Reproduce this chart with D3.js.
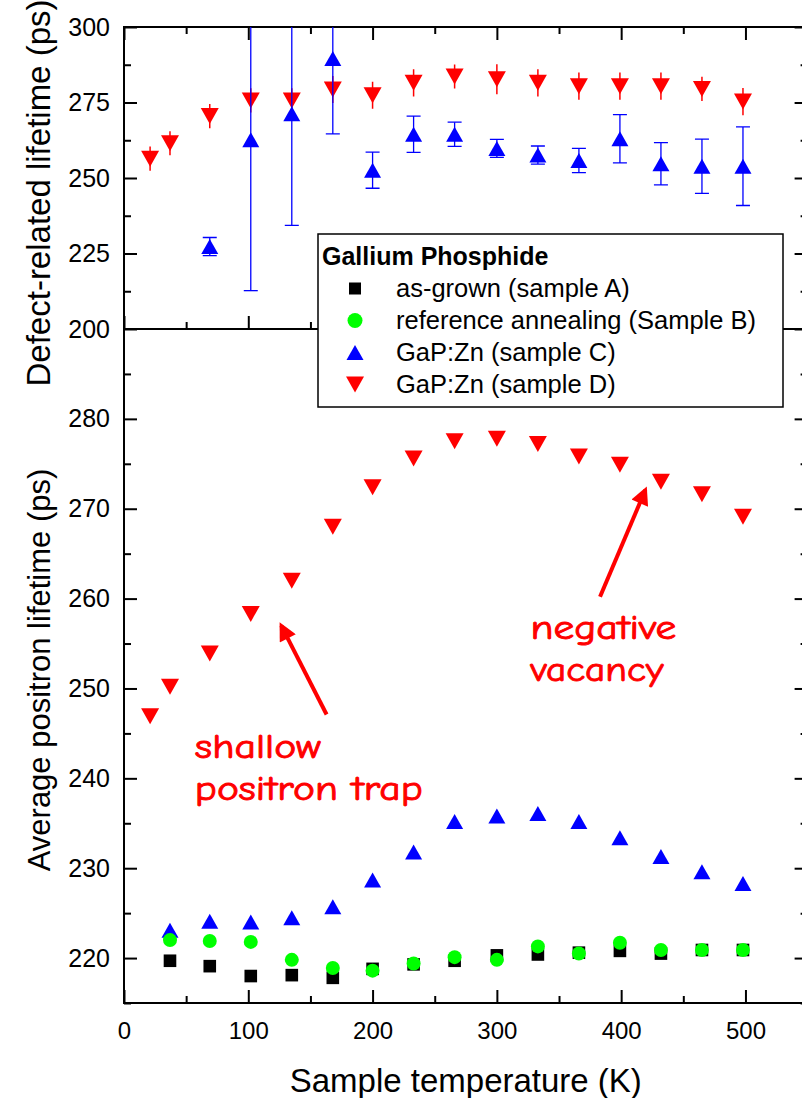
<!DOCTYPE html>
<html>
<head>
<meta charset="utf-8">
<script src="https://cdn.jsdelivr.net/npm/d3@7"></script>
<style>
  body { margin: 0; background: #fff; }
  svg text { font-family: "Liberation Sans", Arial, sans-serif; }
</style>
</head>
<body>
<svg id="chart" width="802" height="1098"></svg>
<script>
// temperatures (K)
const temps = [37, 69, 102, 135, 168, 200, 233, 266, 300, 333, 366, 399, 432, 465, 498];
const tempsD = [21, 37, 69, 102, 135, 168, 200, 233, 266, 300, 333, 366, 399, 432, 465, 498];
const tempsDefC = [69, 102, 135, 168, 200, 233, 266, 300, 333, 366, 399, 432, 465, 498];

// average positron lifetime (ps), lower panel
const avgA = [219.7, 219.1, 218.0, 218.1, 217.8, 218.8, 219.3, 219.7, 220.3, 220.4, 220.6, 220.8, 220.5, 220.9, 220.9];
const avgB = [222.0, 221.9, 221.8, 219.8, 218.9, 218.6, 219.4, 220.1, 219.8, 221.3, 220.5, 221.7, 220.9, 220.9, 220.9];
const avgC = [223.1, 224.1, 224.0, 224.5, 225.7, 228.7, 231.8, 235.2, 235.8, 236.1, 235.2, 233.4, 231.3, 229.6, 228.3];
const avgD = [246.9, 250.2, 253.9, 258.3, 262.0, 268.0, 272.4, 275.6, 277.5, 277.8, 277.2, 275.8, 274.9, 273.0, 271.6, 269.1];

// defect-related lifetime (ps), upper panel
const defC = [227.3, 262.7, 271.3, 289.6, 252.6, 264.5, 264.5, 259.8, 257.6, 255.8, 263.0, 254.7, 253.9, 253.9];
const errC = [3, 50, 37, 25, 6, 6, 4, 3, 3, 4, 8, 7, 9, 13];
const defD = [256.4, 261.5, 270.5, 275.7, 275.7, 279.3, 277.4, 281.5, 283.6, 282.7, 281.5, 280.4, 280.4, 280.4, 279.5, 275.3];
const errD = [4, 4, 4, 4, 4, 4.5, 4.5, 4.5, 4, 5, 4.5, 4.5, 4.5, 4.5, 4, 4.5];

// axis ticks
const xTicks = [0, 100, 200, 300, 400, 500];
const xMinor = [50, 150, 250, 350, 450, 550];
const yTopTicks = [200, 225, 250, 275, 300];
const yTopMinor = [212.5, 237.5, 262.5, 287.5];
const yBotTicks = [220, 230, 240, 250, 260, 270, 280];
const yBotMinor = [215, 225, 235, 245, 255, 265, 275, 285];

const legendTitle = "Gallium Phosphide";
const legendLabels = ["as-grown (sample A)", "reference annealing (Sample B)", "GaP:Zn (sample C)", "GaP:Zn (sample D)"];

// annotations in data units [T, ps]
const noteVacancy = ["negative", "vacancy"];
const noteShallow = ["shallow", "positron trap"];
const arrowShallow = [[163, 247.1], [126.5, 257.0]];
const arrowVacancy = [[383, 260.2], [419.5, 272.1]];

const svg = d3.select("#chart");

const pLeft = 124, pRight = 807.6, pTop = 27, pMid = 329, pBottom = 1003;

var x = d3.scaleLinear().domain([0, 550]).range([pLeft, pRight]);
var yTop = d3.scaleLinear().domain([200, 300]).range([pMid, pTop]);
var yBot = d3.scaleLinear().domain([215, 290]).range([pBottom, pMid]);

const upTri = "M0,-7.5L8.5,7.5L-8.5,7.5Z";
const downTri = "M0,8L9,-8L-9,-8Z";

var defs = svg.append("defs");
defs.append("clipPath").attr("id", "clipTop")
  .append("rect").attr("x", pLeft).attr("y", pTop).attr("width", pRight - pLeft).attr("height", pMid - pTop);

function styleAxis(g) {
  g.select(".domain").remove();
  g.selectAll("line").attr("stroke", "#000").attr("stroke-width", 2);
  g.selectAll("text").attr("fill", "#000");
}

// left axes
svg.append("g").attr("transform", "translate(" + pLeft + ",0)")
  .call(d3.axisLeft(yTop).tickValues(yTopTicks).tickSize(-13).tickPadding(14))
  .call(styleAxis).selectAll("text").style("font-size", "25px");
svg.append("g").attr("transform", "translate(" + pLeft + ",0)")
  .call(d3.axisLeft(yTop).tickValues(yTopMinor).tickSize(-7).tickFormat(""))
  .call(styleAxis);
svg.append("g").attr("transform", "translate(" + pLeft + ",0)")
  .call(d3.axisLeft(yBot).tickValues(yBotTicks).tickSize(-13).tickPadding(14))
  .call(styleAxis).selectAll("text").style("font-size", "25px");
svg.append("g").attr("transform", "translate(" + pLeft + ",0)")
  .call(d3.axisLeft(yBot).tickValues(yBotMinor).tickSize(-7).tickFormat(""))
  .call(styleAxis);

// right axes
svg.append("g").attr("transform", "translate(" + pRight + ",0)")
  .call(d3.axisRight(yTop).tickValues(yTopTicks).tickSize(-13).tickFormat(""))
  .call(styleAxis);
svg.append("g").attr("transform", "translate(" + pRight + ",0)")
  .call(d3.axisRight(yTop).tickValues(yTopMinor).tickSize(-7).tickFormat(""))
  .call(styleAxis);
svg.append("g").attr("transform", "translate(" + pRight + ",0)")
  .call(d3.axisRight(yBot).tickValues(yBotTicks).tickSize(-13).tickFormat(""))
  .call(styleAxis);
svg.append("g").attr("transform", "translate(" + pRight + ",0)")
  .call(d3.axisRight(yBot).tickValues(yBotMinor).tickSize(-7).tickFormat(""))
  .call(styleAxis);

// bottom axis
svg.append("g").attr("transform", "translate(0," + pBottom + ")")
  .call(d3.axisBottom(x).tickValues(xTicks).tickSize(-13).tickPadding(19))
  .call(styleAxis).selectAll("text").style("font-size", "24px");
// top and middle axes, ticks only
[[pTop, d3.axisTop], [pMid, d3.axisBottom], [pBottom, d3.axisBottom]].forEach(function(a) {
  var y0 = a[0], mk = a[1];
  if (y0 != pBottom) {
    svg.append("g").attr("transform", "translate(0," + y0 + ")")
      .call(mk(x).tickValues(xTicks).tickSize(-13).tickFormat(""))
      .call(styleAxis);
  }
  svg.append("g").attr("transform", "translate(0," + y0 + ")")
    .call(mk(x).tickValues(xMinor).tickSize(-7).tickFormat(""))
    .call(styleAxis);
});

// frame
svg.append("rect").attr("x", pLeft).attr("y", pTop).attr("width", pRight - pLeft).attr("height", pBottom - pTop)
  .attr("fill", "none").attr("stroke", "#000").attr("stroke-width", 2);
svg.append("line").attr("x1", pLeft).attr("x2", pRight).attr("y1", pMid).attr("y2", pMid)
  .attr("stroke", "#000").attr("stroke-width", 2);

// upper panel: defect-related lifetime
var topG = svg.append("g").attr("clip-path", "url(#clipTop)");
var redData = tempsD.map(function(t, i) { return {t: t, v: defD[i], e: errD[i]}; });
var blueData = tempsDefC.map(function(t, i) { return {t: t, v: defC[i], e: errC[i]}; });

topG.selectAll(".errD").data(redData).enter().append("line")
  .attr("x1", function(d) { return x(d.t); }).attr("x2", function(d) { return x(d.t); })
  .attr("y1", function(d) { return yTop(d.v - d.e); }).attr("y2", function(d) { return yTop(d.v + d.e); })
  .attr("stroke", "#ff0000").attr("stroke-width", 1.5);
topG.selectAll(".symD").data(redData).enter().append("path")
  .attr("d", downTri).attr("fill", "#ff0000")
  .attr("transform", function(d) { return "translate(" + x(d.t) + "," + yTop(d.v) + ")"; });

var errG = topG.selectAll(".errC").data(blueData).enter().append("g").attr("stroke", "#0000ff").attr("stroke-width", 1.3);
errG.append("line")
  .attr("x1", function(d) { return x(d.t); }).attr("x2", function(d) { return x(d.t); })
  .attr("y1", function(d) { return yTop(d.v - d.e); }).attr("y2", function(d) { return yTop(d.v + d.e); });
errG.append("line")
  .attr("x1", function(d) { return x(d.t) - 7; }).attr("x2", function(d) { return x(d.t) + 7; })
  .attr("y1", function(d) { return yTop(d.v - d.e); }).attr("y2", function(d) { return yTop(d.v - d.e); });
errG.append("line")
  .attr("x1", function(d) { return x(d.t) - 7; }).attr("x2", function(d) { return x(d.t) + 7; })
  .attr("y1", function(d) { return yTop(d.v + d.e); }).attr("y2", function(d) { return yTop(d.v + d.e); });
topG.selectAll(".symC").data(blueData).enter().append("path")
  .attr("d", upTri).attr("fill", "#0000ff")
  .attr("transform", function(d) { return "translate(" + x(d.t) + "," + yTop(d.v) + ")"; });

// lower panel: average positron lifetime
var botG = svg.append("g");
botG.selectAll(".avgD").data(tempsD).enter().append("path")
  .attr("d", downTri).attr("fill", "#ff0000")
  .attr("transform", function(d, i) { return "translate(" + x(d) + "," + yBot(avgD[i]) + ")"; });
botG.selectAll(".avgC").data(temps).enter().append("path")
  .attr("d", upTri).attr("fill", "#0000ff")
  .attr("transform", function(d, i) { return "translate(" + x(d) + "," + yBot(avgC[i]) + ")"; });
botG.selectAll(".avgA").data(temps).enter().append("rect")
  .attr("x", function(d) { return x(d) - 6.3; }).attr("y", function(d, i) { return yBot(avgA[i]) - 6.3; })
  .attr("width", 12.6).attr("height", 12.6).attr("fill", "#000");
botG.selectAll(".avgB").data(temps).enter().append("circle")
  .attr("cx", function(d) { return x(d); }).attr("cy", function(d, i) { return yBot(avgB[i]); })
  .attr("r", 7).attr("fill", "#00ff00");

// annotations
defs.append("marker").attr("id", "head")
  .attr("viewBox", "0 0 10 10").attr("refX", 8).attr("refY", 5)
  .attr("markerWidth", 5).attr("markerHeight", 4.5).attr("orient", "auto")
  .append("path").attr("d", "M0,0L10,5L0,10Z").attr("fill", "#ff0000");
[arrowShallow, arrowVacancy].forEach(function(a) {
  svg.append("line")
    .attr("x1", x(a[0][0])).attr("y1", yBot(a[0][1]))
    .attr("x2", x(a[1][0])).attr("y2", yBot(a[1][1]))
    .attr("stroke", "#ff0000").attr("stroke-width", 4).attr("marker-end", "url(#head)");
});

function note(lines, t, v, widths) {
  lines.forEach(function(s, i) {
    svg.append("text").attr("x", x(t)).attr("y", yBot(v) + i * 42)
      .attr("textLength", widths[i]).attr("lengthAdjust", "spacingAndGlyphs")
      .style("font-family", "'Comic Sans MS', 'Comic Neue', 'DejaVu Sans', sans-serif")
      .style("font-size", "34px").attr("fill", "#ff0000")
      .attr("stroke", "#ff0000").attr("stroke-width", 0.9).text(s);
  });
}
note(noteVacancy, 327, 255.5, [146, 133]);
note(noteShallow, 57, 242.3, [126, 228]);

// legend
var lg = svg.append("g");
lg.append("rect").attr("x", 318).attr("y", 234).attr("width", 465).attr("height", 173)
  .attr("fill", "#fff").attr("stroke", "#000").attr("stroke-width", 1.5);
lg.append("text").attr("x", 322).attr("y", 265).style("font-size", "25px").style("font-weight", "bold").text(legendTitle);
legendLabels.forEach(function(s, i) {
  var cy = 288.5 + i * 32;
  lg.append("text").attr("x", 396).attr("y", cy + 8.5).style("font-size", "25.5px").text(s);
  if (i == 0) lg.append("rect").attr("x", 349).attr("y", cy - 6).attr("width", 12).attr("height", 12).attr("fill", "#000");
  if (i == 1) lg.append("circle").attr("cx", 355).attr("cy", cy).attr("r", 7.5).attr("fill", "#00ff00");
  if (i == 2) lg.append("path").attr("d", upTri).attr("fill", "#0000ff").attr("transform", "translate(355," + cy + ")");
  if (i == 3) lg.append("path").attr("d", downTri).attr("fill", "#ff0000").attr("transform", "translate(355," + cy + ")");
});

// axis titles
svg.append("text").attr("x", (pLeft + pRight) / 2).attr("y", 1092).attr("text-anchor", "middle")
  .style("font-size", "33px").text("Sample temperature (K)");
svg.append("text").attr("transform", "translate(50,193) rotate(-90)").attr("text-anchor", "middle")
  .style("font-size", "33px").text("Defect-related lifetime (ps)");
svg.append("text").attr("transform", "translate(50,670) rotate(-90)").attr("text-anchor", "middle")
  .style("font-size", "31px").text("Average positron lifetime (ps)");
</script>
</body>
</html>
